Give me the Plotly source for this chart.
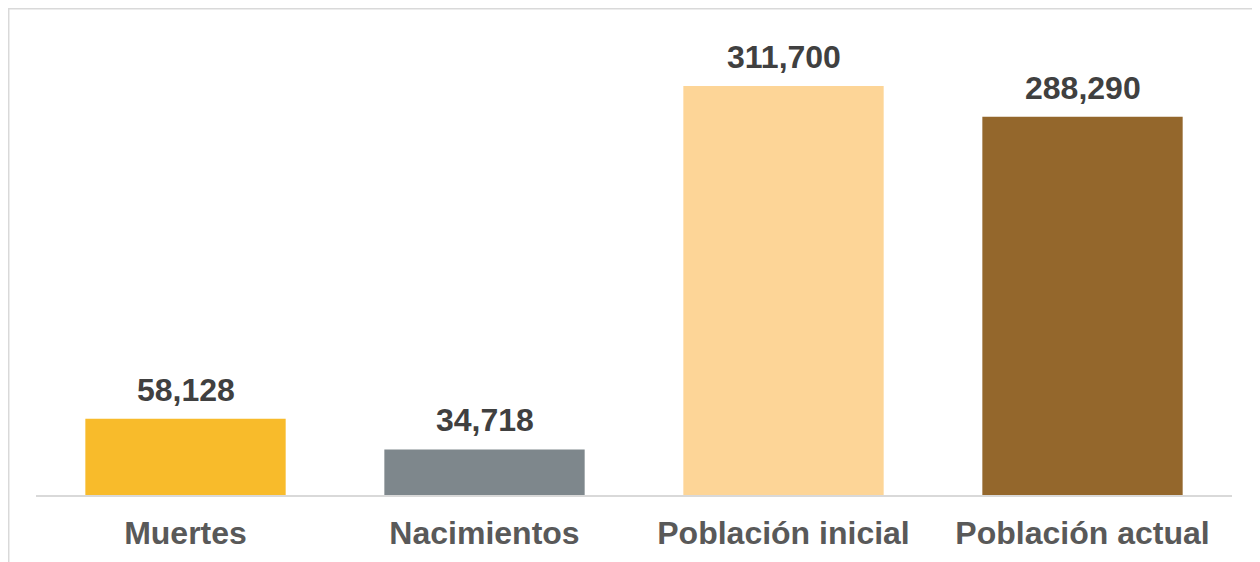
import plotly.graph_objects as go

categories = ["Muertes", "Nacimientos", "Población inicial", "Población actual"]
values = [58128, 34718, 311700, 288290]
labels = ["58,128", "34,718", "311,700", "288,290"]
colors = ["#F8BB2B", "#7E878C", "#FDD597", "#94672C"]

fig = go.Figure(go.Bar(
    x=categories, y=values,
    marker=dict(color=colors, line=dict(width=0)),
    hoverinfo="x+y",
))

for c, v, t in zip(categories, values, labels):
    fig.add_annotation(
        x=c, y=v, text=t, showarrow=False, yanchor="middle", yshift=29,
        font=dict(family="Liberation Sans, Arial", size=32, color="#404040", weight="bold"),
    )

fig.update_layout(
    width=1260, height=562,
    margin=dict(l=28, r=36, t=12, b=75),
    plot_bgcolor="white", paper_bgcolor="white",
    bargap=0.33, showlegend=False,
    xaxis=dict(showline=True, linecolor="#D9D9D9", linewidth=2, ticks="",
               tickfont=dict(family="Liberation Sans, Arial", size=32, color="#595959", weight="bold"),
               ticklabelstandoff=9, showgrid=False),
    yaxis=dict(range=[0, 362000], visible=False, showgrid=False),
    shapes=[dict(type="rect", xref="paper", yref="paper",
                 x0=-0.0228, x1=1.0176, y0=-0.25, y1=1.0237,
                 line=dict(color="#D9D9D9", width=1.5), layer="below")],
)

fig.write_html("out.html")
